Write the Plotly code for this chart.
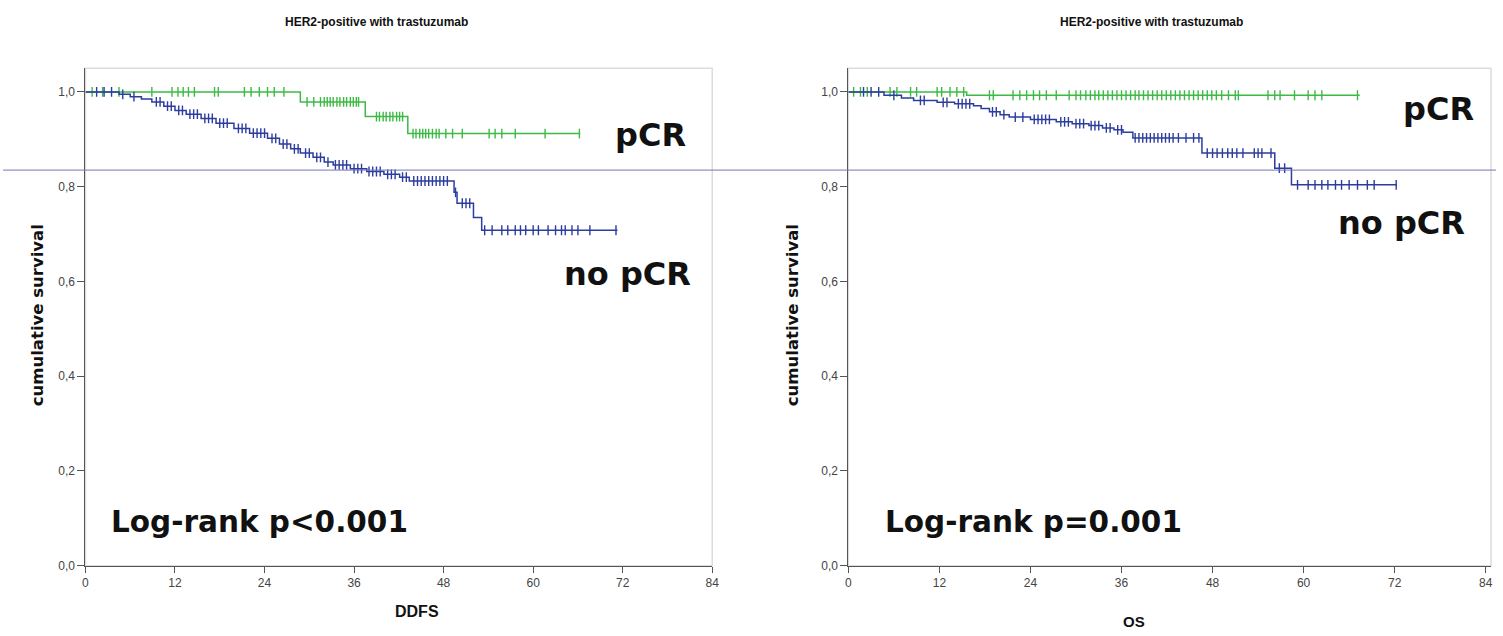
import numpy as np
import plotly.graph_objects as go

# ---------------- data ----------------
title_text = "HER2-positive with trastuzumab"
x_ticks = [0, 12, 24, 36, 48, 60, 72, 84]
y_ticks = [0.0, 0.2, 0.4, 0.6, 0.8, 1.0]
y_ticktext = ["0,0", "0,2", "0,4", "0,6", "0,8", "1,0"]

# DDFS, pCR (green)
ddfs_pcr_t = [0, 28.8, 37.5, 43.2, 66.3]
ddfs_pcr_s = [1.0, 0.979, 0.948, 0.912, 0.912]
ddfs_pcr_cens = [0.9, 2.3, 4.5, 8.9, 11.6, 12.4, 13.1, 13.8, 14.6, 17.3, 17.8, 21.3, 22.2,
                 23.3, 24.4, 25.3, 26.6, 29.7, 30.6, 31.5, 32.0, 32.4, 32.8, 33.2, 33.7,
                 34.1, 34.6, 35.0, 35.5, 35.9, 36.3, 36.6, 39.0, 39.4, 39.9, 40.3, 40.8,
                 41.2, 41.7, 42.1, 42.5, 43.9, 44.3, 44.8, 45.2, 45.6, 46.0, 46.5, 47.0,
                 47.4, 48.3, 49.2, 50.5, 54.1, 54.9, 55.8, 57.6, 61.6, 66.2]

# DDFS, no pCR (blue)
ddfs_nopcr_t = [0, 4.5, 6.0, 7.5, 8.9, 10.5, 12.0, 13.5, 15.5, 17.5, 19.9, 22.0, 24.4,
                26.0, 27.5, 28.8, 30.5, 32.0, 33.2, 35.5, 37.7, 40.0, 42.1, 43.4, 49.4,
                49.8, 52.0, 53.1, 71.3]
ddfs_nopcr_s = [1.0, 0.995, 0.99, 0.985, 0.979, 0.97, 0.961, 0.953, 0.944, 0.934, 0.923,
                0.913, 0.902, 0.89, 0.88, 0.871, 0.862, 0.852, 0.846, 0.838, 0.832, 0.826,
                0.82, 0.812, 0.788, 0.765, 0.735, 0.708, 0.708]
ddfs_nopcr_cens = [1.5, 2.5, 3.5, 5.0, 6.5, 9.5, 10.0, 11.0, 11.5, 12.5, 13.0, 14.0, 14.5,
                   15.0, 16.0, 16.5, 17.0, 18.0, 18.5, 19.0, 20.5, 21.0, 21.5, 22.5, 23.0,
                   23.5, 24.0, 25.0, 25.5, 26.5, 27.0, 28.0, 28.5, 29.5, 30.0, 31.0, 31.5,
                   32.5, 33.5, 34.0, 34.5, 35.0, 36.0, 36.5, 37.0, 38.0, 38.5, 39.0, 39.5,
                   40.5, 41.0, 41.5, 42.5, 43.0, 44.0, 44.5, 45.0, 45.5, 46.0, 46.5, 47.0,
                   47.5, 48.0, 48.5, 49.6, 50.5, 51.0, 51.5, 53.5, 54.5, 55.8, 56.6, 57.6,
                   58.3, 59.0, 60.0, 60.7, 62.0, 63.0, 63.8, 64.3, 65.2, 66.0, 67.6, 71.1]

# OS, pCR (green)
os_pcr_t = [0, 15.6, 67.4]
os_pcr_s = [1.0, 0.993, 0.993]
os_pcr_cens = [0.7, 1.6, 2.5, 5.5, 6.4, 8.2, 9.0, 11.7, 12.3, 13.4, 14.3, 15.2, 18.6, 19.1,
               21.7, 22.6, 23.5, 24.4, 25.2, 26.1, 27.4, 29.1, 30.0, 30.6, 31.3, 31.9, 32.5,
               33.0, 33.6, 34.2, 34.8, 35.4, 36.0, 36.6, 37.2, 37.8, 38.3, 38.9, 39.5, 40.1,
               40.7, 41.3, 41.9, 42.5, 43.1, 43.7, 44.3, 44.9, 45.5, 46.1, 46.7, 47.3, 47.9,
               48.5, 49.2, 50.1, 51.0, 51.4, 55.3, 56.2, 56.9, 58.8, 60.6, 61.5, 62.4, 67.1]

# OS, no pCR (blue)
os_nopcr_t = [0, 4.7, 7.0, 8.6, 11.7, 14.0, 16.5, 17.5, 18.6, 20.0, 21.2, 24.0, 27.4, 29.5,
              31.7, 33.5, 35.0, 36.2, 37.5, 46.6, 56.2, 58.4, 72.3]
os_nopcr_s = [1.0, 0.993, 0.987, 0.982, 0.978, 0.975, 0.971, 0.965, 0.958, 0.952, 0.947,
              0.942, 0.937, 0.933, 0.929, 0.924, 0.92, 0.915, 0.903, 0.871, 0.839, 0.804,
              0.804]
os_nopcr_cens = [2.0, 3.0, 4.0, 6.0, 9.5, 10.0, 12.5, 13.0, 14.5, 15.0, 15.5, 16.0, 19.0,
                 19.5, 20.5, 22.0, 23.0, 24.5, 25.0, 25.5, 26.0, 26.5, 28.0, 28.5, 29.0,
                 30.0, 30.5, 31.0, 32.0, 32.5, 33.0, 34.0, 34.5, 35.5, 36.0, 37.8, 38.3,
                 38.8, 39.3, 39.8, 40.3, 40.8, 41.3, 41.8, 42.3, 42.8, 43.5, 44.5, 45.5,
                 46.2, 47.3, 48.0, 48.6, 49.3, 50.0, 50.6, 51.2, 52.0, 53.5, 54.0, 54.5,
                 55.7, 56.8, 57.5, 59.2, 60.6, 61.5, 62.4, 63.2, 64.2, 65.0, 66.0, 67.1,
                 68.4, 69.3, 72.2]

# ---------------- styling ----------------
GREEN = "#3dba45"
BLUE = "#2c3d9e"
AXIS = "#555555"
FRAME = "#dcdcdc"


def surv_at(times, surv, ct):
    idx = np.searchsorted(np.array(times), np.array(ct), side="right") - 1
    return np.array(surv)[idx]


fig = go.Figure()


def add_curve(t, s, cens, color, xa, ya):
    fig.add_trace(go.Scatter(x=t, y=s, mode="lines", line=dict(color=color, width=1.5, shape="hv"),
                             xaxis=xa, yaxis=ya, showlegend=False, hoverinfo="skip"))
    fig.add_trace(go.Scatter(x=cens, y=surv_at(t, s, cens), mode="markers",
                             marker=dict(symbol="line-ns", size=7, line=dict(color=color, width=1.4)),
                             xaxis=xa, yaxis=ya, showlegend=False, hoverinfo="skip"))


add_curve(ddfs_pcr_t, ddfs_pcr_s, ddfs_pcr_cens, GREEN, "x", "y")
add_curve(ddfs_nopcr_t, ddfs_nopcr_s, ddfs_nopcr_cens, BLUE, "x", "y")
add_curve(os_pcr_t, os_pcr_s, os_pcr_cens, GREEN, "x2", "y2")
add_curve(os_nopcr_t, os_nopcr_s, os_nopcr_cens, BLUE, "x2", "y2")

W, H = 1503, 636
ydom = [1 - 572 / H, 1 - 69 / H]
xdom1 = [83 / W, 714 / W]
xdom2 = [851 / W, 1498 / W]

tickfont = dict(family="Liberation Sans Narrow, Liberation Sans, Arial", size=12, color="#444444")

xcommon = dict(tickmode="array", tickvals=x_ticks, ticks="outside", ticklen=6, tickwidth=1,
               tickcolor=AXIS, showline=True, linecolor=AXIS, linewidth=1, showgrid=False,
               zeroline=False, tickfont=tickfont, fixedrange=True)
ycommon = dict(range=[0, 1.05], tickmode="array", tickvals=y_ticks, ticktext=y_ticktext,
               ticks="outside", ticklen=7, tickwidth=1, tickcolor=AXIS, showline=True,
               linecolor=AXIS, linewidth=1, showgrid=False, zeroline=False, tickfont=tickfont,
               fixedrange=True)

fig.update_layout(
    width=W, height=H, margin=dict(l=0, r=0, t=0, b=0),
    paper_bgcolor="white", plot_bgcolor="white",
    xaxis=dict(domain=xdom1, range=[0, 84], anchor="y", **xcommon),
    yaxis=dict(domain=ydom, anchor="x", **ycommon),
    xaxis2=dict(domain=xdom2, range=[0, 84.7], anchor="y2", **xcommon),
    yaxis2=dict(domain=ydom, anchor="x2", **ycommon),
)

# light frame around each plot area
for xr, yr in (("x domain", "y domain"), ("x2 domain", "y2 domain")):
    fig.add_shape(type="rect", xref=xr, yref=yr, x0=0, x1=1, y0=0, y1=1,
                  line=dict(color=FRAME, width=1.5), layer="below")

# thin horizontal line crossing the whole image
fig.add_shape(type="line", xref="paper", yref="paper", x0=0, x1=1,
              y0=1 - 172 / H, y1=1 - 172 / H, line=dict(color="#7474b8", width=1), layer="above")

big = dict(family="DejaVu Sans", size=32, color="#111111")
logr = dict(family="DejaVu Sans", size=29.5, color="#111111")
lab = dict(family="Liberation Sans", size=12, color="#111111")


def ann(x, y, text, font, **kw):
    fig.add_annotation(x=x / W, y=1 - y / H, xref="paper", yref="paper", text=text,
                       showarrow=False, font=font, xanchor="center", yanchor="middle", **kw)


ann(376, 22, "<b>" + title_text + "</b>", lab)
ann(1156, 22, "<b>" + title_text + "</b>", lab)

ann(652, 137, "<b>pCR</b>", big)
ann(629, 277, "<b>no pCR</b>", big)
ann(1445, 110, "<b>pCR</b>", big)
ann(1408, 225, "<b>no pCR</b>", big)

ann(258, 528, "<b>Log-rank p&lt;0.001</b>", logr)
ann(1037, 528, "<b>Log-rank p=0.001</b>", logr)

ytit = dict(family="DejaVu Sans", size=16.5, color="#111111")
ann(35, 319, "<b>cumulative survival</b>", ytit, textangle=-90)
ann(795, 319, "<b>cumulative survival</b>", ytit, textangle=-90)

ann(417, 618, "<b>DDFS</b>", dict(family="Liberation Sans", size=16, color="#111111"))
ann(1139, 628, "<b>OS</b>", dict(family="Liberation Sans", size=15, color="#111111"))

fig.write_html("out.html")
